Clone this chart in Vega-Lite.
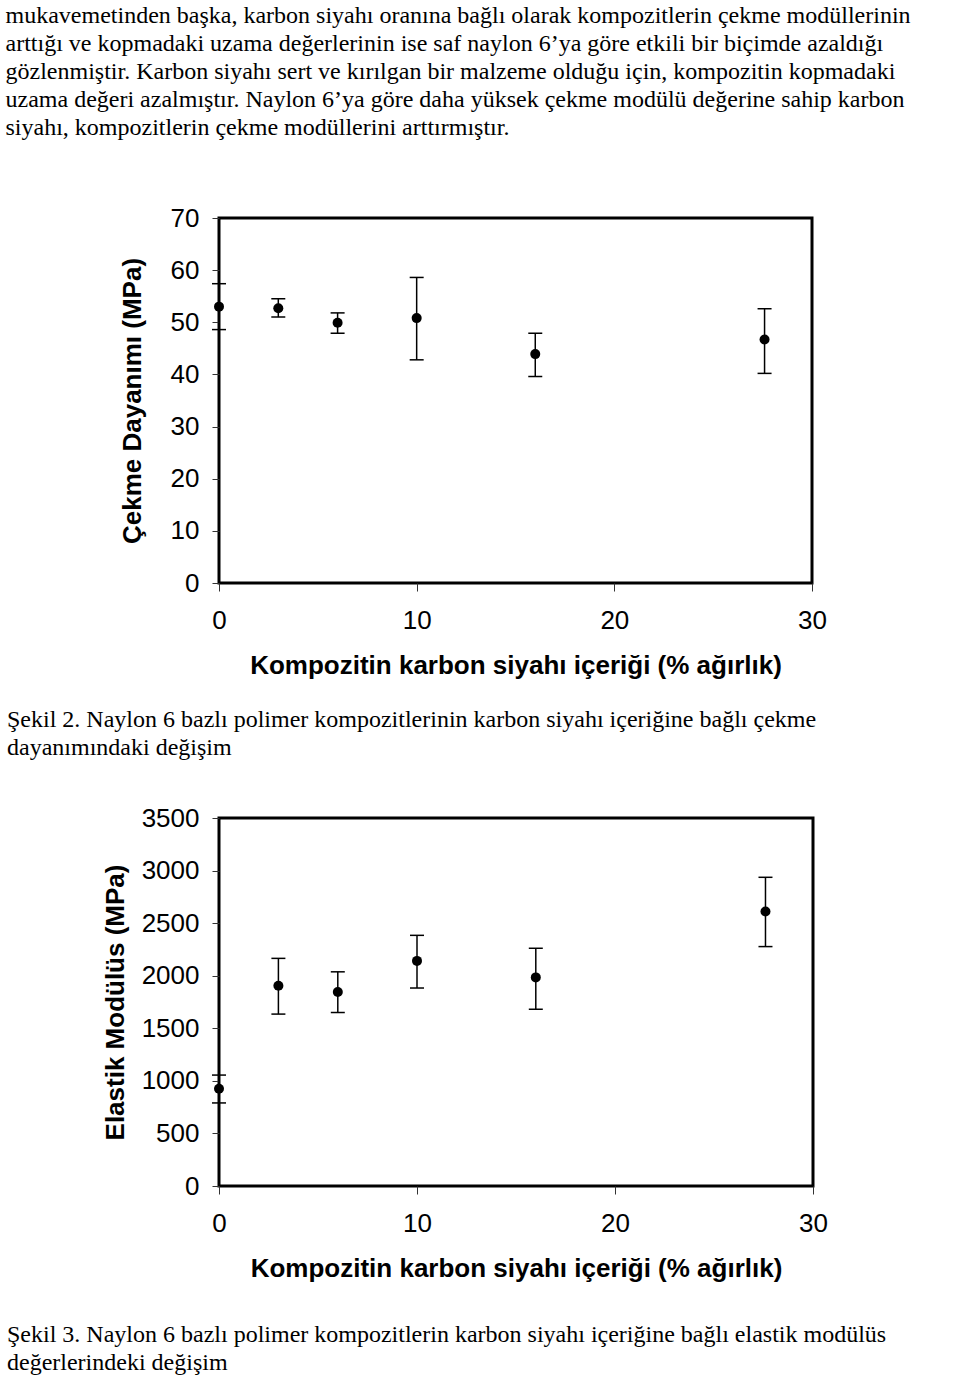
{
  "$schema": "https://vega.github.io/schema/vega-lite/v6.json",
  "background": "white",
  "padding": {"left": 5, "right": 5, "top": 3, "bottom": 0},
  "config": {
    "font": "Liberation Sans",
    "view": {"stroke": "black", "strokeWidth": 3},
    "axis": {
      "grid": false,
      "domain": false,
      "labelFlush": false,
      "labelFont": "Liberation Sans",
      "labelFontSize": 26,
      "labelColor": "black",
      "titleFont": "Liberation Sans",
      "titleFontSize": 26,
      "titleFontWeight": "bold",
      "titleColor": "black",
      "tickColor": "#333333",
      "tickWidth": 1,
      "tickSize": 7,
      "labelPadding": 13,
      "titlePadding": 18
    },
    "axisX": {"labelPadding": 16, "tickSize": 8, "titlePadding": 19},
    "title": {
      "font": "Liberation Serif",
      "fontSize": 24,
      "fontWeight": "normal",
      "color": "black",
      "anchor": "start",
      "lineHeight": 28
    }
  },
  "title": {
    "text": [
      "mukavemetinden başka, karbon siyahı oranına bağlı olarak kompozitlerin çekme modüllerinin",
      "arttığı ve kopmadaki uzama değerlerinin ise saf naylon 6’ya göre etkili bir biçimde azaldığı",
      "gözlenmiştir. Karbon siyahı sert ve kırılgan bir malzeme olduğu için, kompozitin kopmadaki",
      "uzama değeri azalmıştır. Naylon 6’ya göre daha yüksek çekme modülü değerine sahip karbon",
      "siyahı, kompozitlerin çekme modüllerini arttırmıştır."
    ],
    "frame": "bounds",
    "offset": 64
  },
  "datasets": {
    "cekme": [
      {"icerik": 0, "deger": 53.0, "alt": 48.6, "ust": 57.4},
      {"icerik": 3, "deger": 52.7, "alt": 51.0, "ust": 54.5},
      {"icerik": 6, "deger": 49.9, "alt": 47.9, "ust": 51.8},
      {"icerik": 10, "deger": 50.8, "alt": 42.8, "ust": 58.6},
      {"icerik": 16, "deger": 43.9, "alt": 39.6, "ust": 47.9},
      {"icerik": 27.6, "deger": 46.7, "alt": 40.2, "ust": 52.6}
    ],
    "modul": [
      {"icerik": 0, "deger": 925, "alt": 790, "ust": 1055},
      {"icerik": 3, "deger": 1905, "alt": 1635, "ust": 2165},
      {"icerik": 6, "deger": 1845, "alt": 1650, "ust": 2037},
      {"icerik": 10, "deger": 2141, "alt": 1883, "ust": 2384},
      {"icerik": 16, "deger": 1984, "alt": 1681, "ust": 2261},
      {"icerik": 27.6, "deger": 2611, "alt": 2277, "ust": 2936}
    ]
  },
  "spacing": 41,
  "vconcat": [
    {
      "width": 593,
      "height": 365,
      "data": {"name": "cekme"},
      "title": {
        "text": [
          "Şekil 2. Naylon 6 bazlı polimer kompozitlerinin karbon siyahı içeriğine bağlı çekme",
          "dayanımındaki değişim"
        ],
        "orient": "bottom",
        "frame": "group",
        "anchor": "start",
        "dx": -212,
        "offset": 30
      },
      "encoding": {
        "x": {
          "field": "icerik",
          "type": "quantitative",
          "scale": {"domain": [0, 30], "nice": false},
          "axis": {"values": [0, 10, 20, 30], "title": "Kompozitin karbon siyahı içeriği (% ağırlık)"}
        }
      },
      "layer": [
        {
          "mark": {"type": "rule", "color": "black", "strokeWidth": 1.5},
          "encoding": {
            "y": {
              "field": "alt",
              "type": "quantitative",
              "scale": {"domain": [0, 70], "nice": false},
              "axis": {"values": [0, 10, 20, 30, 40, 50, 60, 70], "title": "Çekme Dayanımı (MPa)", "titlePadding": 25}
            },
            "y2": {"field": "ust"}
          }
        },
        {
          "mark": {"type": "tick", "orient": "horizontal", "color": "black", "size": 14, "thickness": 1.5, "opacity": 1},
          "encoding": {"y": {"field": "alt", "type": "quantitative"}}
        },
        {
          "mark": {"type": "tick", "orient": "horizontal", "color": "black", "size": 14, "thickness": 1.5, "opacity": 1},
          "encoding": {"y": {"field": "ust", "type": "quantitative"}}
        },
        {
          "mark": {"type": "point", "shape": "circle", "filled": true, "color": "black", "size": 100, "opacity": 1},
          "encoding": {"y": {"field": "deger", "type": "quantitative"}}
        }
      ]
    },
    {
      "width": 594,
      "height": 368,
      "data": {"name": "modul"},
      "title": {
        "text": [
          "Şekil 3. Naylon 6 bazlı polimer kompozitlerin karbon siyahı içeriğine bağlı elastik modülüs",
          "değerlerindeki değişim"
        ],
        "orient": "bottom",
        "frame": "group",
        "anchor": "start",
        "dx": -212,
        "offset": 42
      },
      "encoding": {
        "x": {
          "field": "icerik",
          "type": "quantitative",
          "scale": {"domain": [0, 30], "nice": false},
          "axis": {"values": [0, 10, 20, 30], "title": "Kompozitin karbon siyahı içeriği (% ağırlık)"}
        }
      },
      "layer": [
        {
          "mark": {"type": "rule", "color": "black", "strokeWidth": 1.5},
          "encoding": {
            "y": {
              "field": "alt",
              "type": "quantitative",
              "scale": {"domain": [0, 3500], "nice": false},
              "axis": {"values": [0, 500, 1000, 1500, 2000, 2500, 3000, 3500], "format": "d", "title": "Elastik Modülüs (MPa)", "titlePadding": 13}
            },
            "y2": {"field": "ust"}
          }
        },
        {
          "mark": {"type": "tick", "orient": "horizontal", "color": "black", "size": 14, "thickness": 1.5, "opacity": 1},
          "encoding": {"y": {"field": "alt", "type": "quantitative"}}
        },
        {
          "mark": {"type": "tick", "orient": "horizontal", "color": "black", "size": 14, "thickness": 1.5, "opacity": 1},
          "encoding": {"y": {"field": "ust", "type": "quantitative"}}
        },
        {
          "mark": {"type": "point", "shape": "circle", "filled": true, "color": "black", "size": 100, "opacity": 1},
          "encoding": {"y": {"field": "deger", "type": "quantitative"}}
        }
      ]
    }
  ]
}
